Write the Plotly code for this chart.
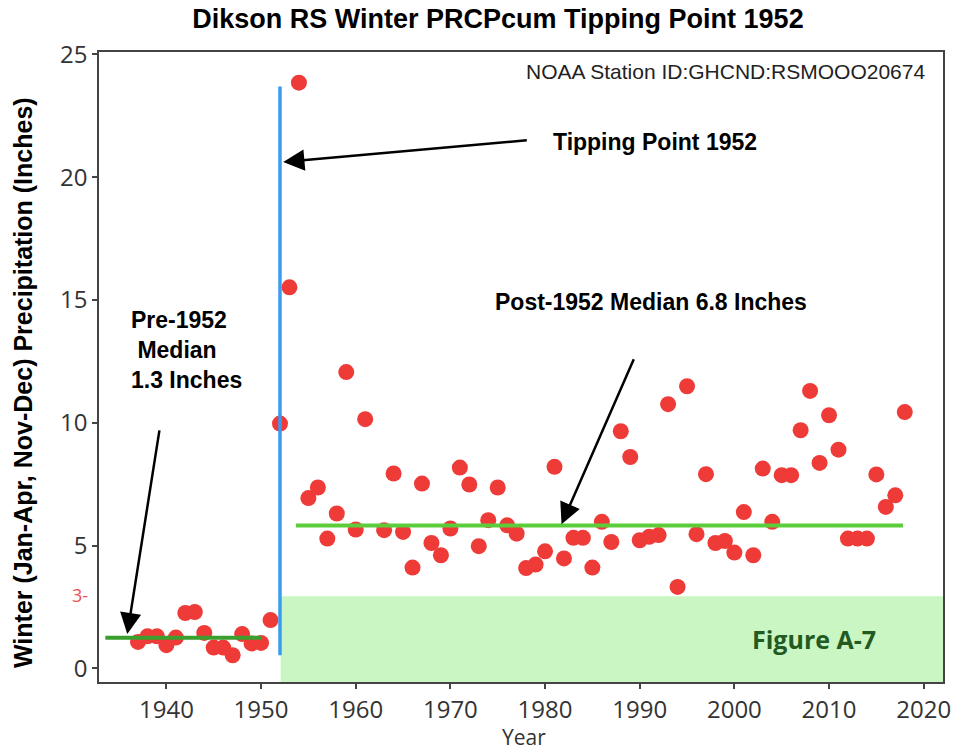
import plotly.graph_objects as go

# ---------------- data ----------------
years_pre = [1937, 1938, 1939, 1940, 1941, 1942, 1943, 1944, 1945, 1946, 1947, 1948, 1949, 1950, 1951]
prcp_pre = [1.08, 1.31, 1.31, 0.95, 1.26, 2.26, 2.30, 1.45, 0.85, 0.85, 0.54, 1.40, 1.02, 1.04, 1.97]

years_post = [1952, 1953, 1954, 1955, 1956, 1957, 1958, 1959, 1960, 1961,
              1963, 1964, 1965, 1966, 1967, 1968, 1969, 1970, 1971, 1972,
              1973, 1974, 1975, 1976, 1977, 1978, 1979, 1980, 1981, 1982,
              1983, 1984, 1985, 1986, 1987, 1988, 1989, 1990, 1991, 1992,
              1993, 1994, 1995, 1996, 1997, 1998, 1999, 2000, 2001, 2002,
              2003, 2004, 2005, 2006, 2007, 2008, 2009, 2010, 2011, 2012,
              2013, 2014, 2015, 2016, 2017, 2018]
prcp_post = [9.97, 15.52, 23.85, 6.94, 7.37, 5.29, 6.31, 12.07, 5.66, 10.15,
             5.63, 7.94, 5.56, 4.11, 7.53, 5.11, 4.61, 5.70, 8.18, 7.49,
             4.98, 6.04, 7.37, 5.83, 5.49, 4.09, 4.23, 4.77, 8.21, 4.48,
             5.32, 5.32, 4.11, 5.97, 5.15, 9.66, 8.61, 5.22, 5.36, 5.43,
             10.76, 3.32, 11.49, 5.47, 7.91, 5.11, 5.19, 4.72, 6.37, 4.61,
             8.14, 5.97, 7.87, 7.87, 9.70, 11.30, 8.37, 10.31, 8.91, 5.29,
             5.29, 5.29, 7.90, 6.58, 7.05, 10.44]

pre_median_x = [1933.55, 1950.02]
pre_median_y = [1.25, 1.25]
post_median_x = [1953.68, 2017.81]
post_median_y = [5.82, 5.82]
tipping_x = [1952.0, 1952.0]
tipping_y = [0.54, 23.70]
box_x = [1952.07, 2022.04]
box_y = [-0.55, 2.94]

x_range = [1932.88, 2022.04]
y_range = [-0.55, 25.1]
x_ticks = [1940, 1950, 1960, 1970, 1980, 1990, 2000, 2010, 2020]
y_ticks = [0, 5, 10, 15, 20, 25]

title_text = "Dikson RS Winter PRCPcum Tipping Point 1952"
ylabel = "Winter (Jan-Apr, Nov-Dec) Precipitation (Inches)"
xlabel = "Year"

# ---------------- figure ----------------
fig = go.Figure()

fig.add_shape(type="rect", xref="x", yref="y",
              x0=box_x[0], x1=box_x[1], y0=box_y[0], y1=box_y[1],
              fillcolor="#c9f6c2", line_width=0, layer="below")

fig.add_trace(go.Scatter(x=years_pre + years_post, y=prcp_pre + prcp_post,
                         mode="markers",
                         marker=dict(size=16, color="#ee3b38", line_width=0),
                         showlegend=False, hoverinfo="x+y"))

fig.add_trace(go.Scatter(x=pre_median_x, y=pre_median_y, mode="lines",
                         line=dict(color="#3a9f2c", width=4), showlegend=False))
fig.add_trace(go.Scatter(x=post_median_x, y=post_median_y, mode="lines",
                         line=dict(color="#5ccd3a", width=4), showlegend=False))
fig.add_trace(go.Scatter(x=tipping_x, y=tipping_y, mode="lines",
                         line=dict(color="#3a9bf2", width=3.5), showlegend=False))

bold = "Liberation Sans"

arrows = [
    dict(x=1952.34, y=20.62, ax=1978.39, ay=21.52),
    dict(x=1981.74, y=5.87, ax=1989.69, ay=12.87),
    dict(x=1935.87, y=1.40, ax=1939.43, ay=10.1),
]
for a in arrows:
    fig.add_annotation(x=a["x"], y=a["y"], ax=a["ax"], ay=a["ay"],
                       xref="x", yref="y", axref="x", ayref="y",
                       text=" ", showarrow=True, arrowhead=2, arrowsize=1.7,
                       arrowwidth=2.5, arrowcolor="black", standoff=0, startstandoff=0)

fig.add_annotation(x=1991.59, y=21.42, xref="x", yref="y", showarrow=False,
                   text="<b>Tipping Point 1952</b>",
                   font=dict(family=bold, size=23, color="black"))
fig.add_annotation(x=1991.24, y=14.91, xref="x", yref="y", showarrow=False,
                   text="<b>Post-1952 Median 6.8 Inches</b>",
                   font=dict(family=bold, size=23, color="black"))
fig.add_annotation(x=1936.1, y=12.95, xref="x", yref="y", showarrow=False,
                   xanchor="left", yanchor="middle", align="left",
                   text="<b>Pre-1952<br>\u00a0Median<br>1.3 Inches</b>",
                   font=dict(family=bold, size=23, color="black"))
fig.add_annotation(x=2020.3, y=24.3, xref="x", yref="y", showarrow=False,
                   xanchor="right",
                   text="NOAA Station ID:GHCND:RSMOOO20674",
                   font=dict(family=bold, size=21, color="#222222"))
fig.add_annotation(x=2008.38, y=1.19, xref="x", yref="y", showarrow=False,
                   text="<b>Figure A-7</b>",
                   font=dict(family="Open Sans", size=25, color="#235a22"))
fig.add_annotation(x=-0.011, y=2.98, xref="paper", yref="y", showarrow=False,
                   xanchor="right", text="3-",
                   font=dict(family="Open Sans", size=18, color="#f0505a"))
# axis titles
fig.add_annotation(x=0.5036, y=-0.0875, xref="paper", yref="paper", showarrow=False,
                   yanchor="middle", text=xlabel,
                   font=dict(family="Open Sans", size=21, color="#333333"))
fig.add_annotation(x=-0.090, y=0.4746, xref="paper", yref="paper", showarrow=False,
                   textangle=-90, xanchor="center", yanchor="middle",
                   text="<b>" + ylabel + "</b>",
                   font=dict(family=bold, size=25, color="black"))

fig.update_layout(
    width=954, height=753,
    margin=dict(l=99, r=11, t=52, b=71, autoexpand=False),
    paper_bgcolor="white", plot_bgcolor="white",
    title=dict(text="<b>" + title_text + "</b>", x=0.522, xanchor="center",
               y=1 - 19 / 753, yanchor="middle", yref="container",
               font=dict(family=bold, size=27, color="black")),
    showlegend=False,
)
axis_common = dict(showgrid=False, zeroline=False, showline=True, linecolor="#444444",
                   linewidth=1.5, mirror=True, ticks="outside", ticklen=5, tickwidth=1.5,
                   tickcolor="#444444", automargin=False,
                   tickfont=dict(family="Open Sans", size=24, color="#333333"))
fig.update_xaxes(range=x_range, tickvals=x_ticks, **axis_common)
fig.update_yaxes(range=y_range, tickvals=y_ticks, **axis_common)

fig.write_html("out.html", config={"displayModeBar": False},
               post_script="document.body.style.margin='0';document.body.style.overflow='hidden';")
